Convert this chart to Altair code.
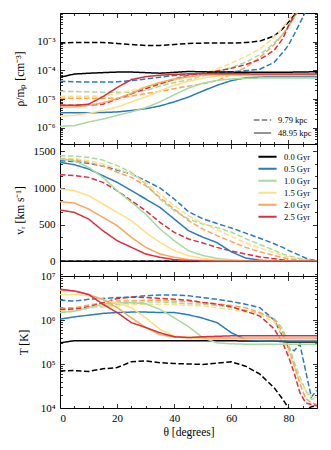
import altair as alt
import pandas as pd

# ---------------- data ----------------
THETA = [0, 5, 10, 15, 20, 25, 30, 35, 40, 45, 50, 55, 60, 65, 70, 75, 78, 80, 82, 84, 86, 88, 90]
AGES = ["0.0 Gyr", "0.5 Gyr", "1.0 Gyr", "1.5 Gyr", "2.0 Gyr", "2.5 Gyr"]
COLORS = ["#000000", "#2b7bba", "#a6db9f", "#fedf85", "#fca55d", "#d7303f"]
RADII = ["9.79 kpc", "48.95 kpc"]

# log10(rho/m_p [cm^-3])
LOGRHO_9 = {
    "0.0 Gyr": [-3.05, -3.03, -3.03, -3.03, -3.06, -3.10, -3.13, -3.13, -3.10, -3.06, -3.05, -3.05, -3.05, -3.03, -2.98, -2.80, -2.55, -2.32, -2.08, -1.82, -1.60, -1.40, -1.20],
    "0.5 Gyr": [-4.38, -4.40, -4.41, -4.41, -4.40, -4.36, -4.30, -4.24, -4.18, -4.15, -4.12, -4.08, -4.05, -4.01, -3.96, -3.72, -3.38, -3.12, -2.75, -2.35, -1.95, -1.60, -1.30],
    "1.0 Gyr": [-4.73, -4.74, -4.75, -4.76, -4.76, -4.76, -4.70, -4.55, -4.43, -4.33, -4.20, -4.05, -3.90, -3.72, -3.45, -3.05, -2.75, -2.50, -2.15, -1.85, -1.50, -1.20, -1.00],
    "1.5 Gyr": [-4.90, -4.90, -4.90, -4.90, -4.82, -4.70, -4.58, -4.47, -4.35, -4.25, -4.12, -3.95, -3.75, -3.52, -3.25, -2.85, -2.50, -2.25, -1.95, -1.70, -1.40, -1.20, -1.00],
    "2.0 Gyr": [-4.97, -4.97, -4.97, -4.97, -4.97, -4.90, -4.81, -4.73, -4.64, -4.55, -4.47, -4.35, -4.15, -3.90, -3.55, -3.10, -2.75, -2.45, -2.15, -1.85, -1.50, -1.20, -1.00],
    "2.5 Gyr": [-5.22, -5.22, -5.22, -5.18, -5.00, -4.82, -4.64, -4.47, -4.31, -4.17, -4.10, -4.02, -3.93, -3.80, -3.62, -3.30, -2.90, -2.45, -2.10, -1.80, -1.50, -1.20, -1.00],
}
LOGRHO_49 = {
    "0.0 Gyr": [-4.24, -4.13, -4.10, -4.08, -4.06, -4.06, -4.08, -4.10, -4.07, -4.04, -4.05, -4.06, -4.06, -4.07, -4.07, -4.07, -4.07, -4.07, -4.06, -4.06, -4.06, -4.05, -4.05],
    "0.5 Gyr": [-5.48, -5.48, -5.48, -5.47, -5.45, -5.40, -5.34, -5.24, -5.10, -4.93, -4.72, -4.52, -4.36, -4.26, -4.23, -4.22, -4.22, -4.22, -4.22, -4.22, -4.22, -4.22, -4.22],
    "1.0 Gyr": [-5.95, -5.93, -5.80, -5.70, -5.57, -5.45, -5.30, -5.10, -4.85, -4.62, -4.45, -4.35, -4.30, -4.28, -4.27, -4.27, -4.27, -4.27, -4.27, -4.27, -4.27, -4.27, -4.27],
    "1.5 Gyr": [-5.60, -5.57, -5.50, -5.40, -5.28, -5.10, -4.93, -4.72, -4.52, -4.38, -4.27, -4.20, -4.18, -4.18, -4.18, -4.18, -4.18, -4.18, -4.18, -4.18, -4.18, -4.18, -4.18],
    "2.0 Gyr": [-5.28, -5.28, -5.22, -5.13, -4.99, -4.80, -4.58, -4.42, -4.30, -4.22, -4.17, -4.15, -4.15, -4.15, -4.15, -4.15, -4.15, -4.15, -4.15, -4.15, -4.15, -4.15, -4.15],
    "2.5 Gyr": [-5.22, -5.22, -5.18, -4.92, -4.60, -4.32, -4.22, -4.17, -4.14, -4.12, -4.12, -4.12, -4.12, -4.12, -4.13, -4.13, -4.13, -4.13, -4.13, -4.13, -4.13, -4.13, -4.13],
}

# v_R [km/s]
VR_9 = {
    "0.0 Gyr": [0] * 23,
    "0.5 Gyr": [1373, 1360, 1336, 1300, 1245, 1191, 1100, 1000, 850, 677, 580, 515, 455, 385, 315, 240, 190, 150, 115, 80, 45, 20, 10],
    "1.0 Gyr": [1441, 1435, 1418, 1380, 1305, 1214, 1055, 850, 691, 577, 510, 460, 400, 310, 230, 150, 100, 75, 55, 40, 25, 15, 5],
    "1.5 Gyr": [1409, 1400, 1373, 1330, 1259, 1191, 1077, 918, 759, 623, 520, 430, 340, 250, 180, 120, 80, 60, 45, 30, 18, 10, 5],
    "2.0 Gyr": [1395, 1385, 1350, 1300, 1214, 1145, 1032, 873, 714, 555, 440, 350, 270, 190, 130, 80, 50, 35, 25, 15, 8, 5, 0],
    "2.5 Gyr": [1182, 1170, 1145, 1077, 964, 827, 691, 532, 395, 305, 250, 190, 140, 100, 60, 35, 20, 12, 8, 5, 2, 0, 0],
}
VR_49 = {
    "0.0 Gyr": [0] * 23,
    "0.5 Gyr": [1350, 1318, 1259, 1168, 1077, 964, 850, 736, 577, 418, 330, 255, 130, 45, 15, 5, 3, 2, 0, 0, 0, 0, 0],
    "1.0 Gyr": [1395, 1373, 1282, 1145, 964, 805, 645, 441, 282, 145, 80, 40, 20, 8, 3, 0, 0, 0, 0, 0, 0, 0, 0],
    "1.5 Gyr": [986, 964, 895, 782, 668, 555, 395, 259, 145, 77, 40, 20, 10, 5, 2, 0, 0, 0, 0, 0, 0, 0, 0],
    "2.0 Gyr": [814, 795, 714, 600, 486, 327, 191, 100, 55, 23, 12, 6, 3, 1, 0, 0, 0, 0, 0, 0, 0, 0, 0],
    "2.5 Gyr": [700, 668, 577, 418, 282, 191, 100, 55, 23, 10, 5, 2, 1, 0, 0, 0, 0, 0, 0, 0, 0, 0, 0],
}

# log10(T [K])
LOGT_9 = {
    "0.0 Gyr": [4.84, 4.85, 4.83, 4.89, 4.92, 5.05, 5.07, 5.03, 5.01, 5.00, 4.99, 5.02, 5.05, 4.95, 4.77, 4.46, 4.20, 4.00, 3.90, 3.90, 3.95, 4.03, 4.05],
    "0.5 Gyr": [6.45, 6.43, 6.47, 6.49, 6.51, 6.52, 6.55, 6.57, 6.57, 6.55, 6.51, 6.47, 6.42, 6.36, 6.28, 6.00, 5.62, 5.37, 5.30, 5.45, 4.85, 4.25, 4.40],
    "1.0 Gyr": [6.17, 6.20, 6.27, 6.32, 6.36, 6.39, 6.41, 6.41, 6.39, 6.37, 6.36, 6.33, 6.28, 6.22, 6.15, 6.03, 5.80, 5.45, 5.05, 4.70, 4.40, 4.20, 4.23],
    "1.5 Gyr": [6.22, 6.22, 6.28, 6.29, 6.32, 6.35, 6.36, 6.36, 6.35, 6.33, 6.32, 6.28, 6.24, 6.18, 6.13, 5.95, 5.65, 5.28, 4.95, 4.62, 4.40, 4.27, 4.23],
    "2.0 Gyr": [6.27, 6.28, 6.34, 6.39, 6.43, 6.43, 6.45, 6.45, 6.43, 6.42, 6.40, 6.37, 6.33, 6.28, 6.17, 6.02, 5.72, 5.38, 4.97, 4.56, 4.22, 4.12, 4.08],
    "2.5 Gyr": [6.24, 6.25, 6.30, 6.39, 6.49, 6.52, 6.51, 6.49, 6.47, 6.45, 6.40, 6.36, 6.30, 6.20, 6.09, 5.80, 5.48, 5.17, 4.80, 4.35, 4.12, 4.08, 4.05],
}
LOGT_49 = {
    "0.0 Gyr": [5.48, 5.53, 5.53, 5.53, 5.53, 5.53, 5.53, 5.53, 5.53, 5.53, 5.53, 5.53, 5.53, 5.52, 5.52, 5.52, 5.51, 5.50, 5.50, 5.50, 5.50, 5.50, 5.50],
    "0.5 Gyr": [6.02, 6.07, 6.11, 6.15, 6.17, 6.18, 6.18, 6.17, 6.17, 6.12, 6.04, 5.94, 5.71, 5.56, 5.53, 5.52, 5.52, 5.52, 5.52, 5.52, 5.52, 5.52, 5.52],
    "1.0 Gyr": [6.17, 6.20, 6.28, 6.36, 6.39, 6.39, 6.37, 6.24, 6.05, 5.85, 5.60, 5.48, 5.46, 5.45, 5.45, 5.45, 5.45, 5.45, 5.45, 5.45, 5.45, 5.45, 5.45],
    "1.5 Gyr": [6.58, 6.58, 6.55, 6.47, 6.39, 6.28, 6.05, 5.79, 5.64, 5.60, 5.57, 5.56, 5.56, 5.56, 5.56, 5.56, 5.56, 5.56, 5.56, 5.56, 5.56, 5.56, 5.56],
    "2.0 Gyr": [6.67, 6.66, 6.58, 6.47, 6.28, 6.05, 5.83, 5.67, 5.61, 5.60, 5.60, 5.59, 5.59, 5.59, 5.59, 5.59, 5.59, 5.59, 5.59, 5.59, 5.59, 5.59, 5.59],
    "2.5 Gyr": [6.70, 6.66, 6.58, 6.36, 6.17, 5.94, 5.83, 5.71, 5.62, 5.60, 5.62, 5.63, 5.64, 5.64, 5.64, 5.64, 5.64, 5.64, 5.64, 5.64, 5.64, 5.64, 5.64],
}

# ---------------- build tables ----------------
def long_table(d9, d49, as_log):
    rows = []
    for rad, d in ((RADII[0], d9), (RADII[1], d49)):
        for age in AGES:
            for t, v in zip(THETA, d[age]):
                rows.append({"theta": t, "val": 10 ** v if as_log else v, "age": age, "rad": rad})
    return pd.DataFrame(rows)

DF_RHO = long_table(LOGRHO_9, LOGRHO_49, True)
DF_VR = long_table(VR_9, VR_49, False)
DF_T = long_table(LOGT_9, LOGT_49, True)

# ---------------- layout / style ----------------
FONT = "Liberation Serif"
W = 257
H1, H2, H3 = 131, 132, 132

XS = alt.Scale(domain=[0, 90], nice=False, zero=False)
X_MAJOR = [0, 20, 40, 60, 80]
X_MINOR = [v for v in range(5, 90, 5) if v % 20]

SUP = {-7: "⁻⁷", -6: "⁻⁶", -5: "⁻⁵", -4: "⁻⁴", -3: "⁻³", -2: "⁻²",
       4: "⁴", 5: "⁵", 6: "⁶", 7: "⁷"}


def log_label_expr(exps):
    parts = [f"round(log(datum.value)/LN10) == {e} ? '10{SUP[e]}'" for e in exps]
    return " : ".join(parts) + " : ''"


def log_minor(lo_exp, hi_exp, lo, hi):
    out = []
    for e in range(lo_exp, hi_exp + 1):
        for k in range(2, 10):
            v = k * 10.0 ** e
            if lo < v < hi:
                out.append(v)
    return out


COLOR_SCALE = alt.Scale(domain=AGES, range=COLORS)
DASH_SCALE = alt.Scale(domain=RADII, range=[[5.5, 2.5], [1, 0]])


def panel(df, yscale, ymajor, yminor, H, ytitle, titlex, label_expr,
          show_x, color_legend, dash_legend, tick_val):
    ykw = dict(orient="left", values=ymajor, ticks=False, domain=False,
               labelPadding=5, title=ytitle, titleX=titlex, titleY=H / 2,
               titleBaseline="middle", grid=False)
    if label_expr:
        ykw["labelExpr"] = label_expr
    else:
        ykw["format"] = "d"
    yaxis = alt.Axis(**ykw)
    xaxis = None
    if show_x:
        xaxis = alt.Axis(orient="bottom", values=X_MAJOR, ticks=False, domain=False,
                         labelPadding=4, title="θ [degrees]", titlePadding=3,
                         grid=False, format="d")
    lines = alt.Chart(df).mark_line(clip=True, strokeWidth=1.5, strokeCap="butt").encode(
        x=alt.X("theta:Q", scale=XS, axis=xaxis),
        y=alt.Y("val:Q", scale=yscale, axis=yaxis),
        color=alt.Color("age:N", scale=COLOR_SCALE, legend=color_legend),
        strokeDash=alt.StrokeDash("rad:N", scale=DASH_SCALE, legend=dash_legend),
    )
    tick_df = pd.DataFrame({"theta": [45], "val": [tick_val]})
    layers = [lines]
    for vals, size in ((X_MAJOR, 4.5), (X_MINOR, 2.5)):
        for orient in ("top", "bottom"):
            layers.append(alt.Chart(tick_df).mark_point(opacity=0).encode(
                x=alt.X("theta:Q", scale=XS, axis=alt.Axis(
                    orient=orient, offset=-H, values=vals, labels=False, domain=False,
                    ticks=True, tickSize=size, tickWidth=0.8, tickColor="black",
                    grid=False, title=None)),
                y=alt.Y("val:Q", scale=yscale, axis=None)))
    for vals, size in ((ymajor, 4.5), (yminor, 2.5)):
        for orient in ("left", "right"):
            layers.append(alt.Chart(tick_df).mark_point(opacity=0).encode(
                y=alt.Y("val:Q", scale=yscale, axis=alt.Axis(
                    orient=orient, offset=-W, values=vals, labels=False, domain=False,
                    ticks=True, tickSize=size, tickWidth=0.8, tickColor="black",
                    grid=False, title=None)),
                x=alt.X("theta:Q", scale=XS, axis=None)))
    return alt.layer(*layers).resolve_axis(x="independent", y="independent").properties(
        width=W, height=H)


RHO_LO, RHO_HI = 2.7e-7, 1.0e-2
rho_scale = alt.Scale(type="log", domain=[RHO_LO, RHO_HI], nice=False)
rho_major = [1e-6, 1e-5, 1e-4, 1e-3]
rho_minor = log_minor(-7, -3, RHO_LO, RHO_HI)

vr_scale = alt.Scale(domain=[-200, 1600], nice=False, zero=False)
vr_major = [0, 500, 1000, 1500]
vr_minor = [-500 / 3, 500 / 3, 1000 / 3, 2000 / 3, 2500 / 3, 3500 / 3, 4000 / 3]

T_LO, T_HI = 1e4, 1e7
t_scale = alt.Scale(type="log", domain=[T_LO, T_HI], nice=False)
t_major = [1e4, 1e5, 1e6, 1e7]
t_minor = log_minor(4, 6, T_LO, T_HI)

dash_legend = alt.Legend(orient="bottom-right", title=None, symbolType="stroke",
                         symbolStrokeColor="#707070", symbolStrokeWidth=1.5,
                         symbolSize=300, offset=5, rowPadding=1, padding=0,
                         clipHeight=12, labelOffset=6)
color_legend = alt.Legend(orient="top-right", title=None, symbolType="stroke",
                          symbolStrokeWidth=2, symbolSize=330, offset=7,
                          rowPadding=0, padding=0, clipHeight=11.6, labelOffset=6)

p1 = panel(DF_RHO, rho_scale, rho_major, rho_minor, H1, "ρ/mₚ [cm⁻³]", -40,
           log_label_expr([-6, -5, -4, -3]), False, None, dash_legend, 1e-4)
p2 = panel(DF_VR, vr_scale, vr_major, vr_minor, H2, "vᵣ [km s⁻¹]", -40,
           None, False, color_legend, None, 500)
p3 = panel(DF_T, t_scale, t_major, t_minor, H3, "T [K]", -36,
           log_label_expr([4, 5, 6, 7]), True, None, None, 1e5)

chart = alt.vconcat(p1, p2, p3, spacing=0, bounds="flush").resolve_legend(
    color="independent", strokeDash="independent"
).properties(
    padding={"left": 5, "top": 4, "right": 5, "bottom": 5}
).configure_view(
    stroke="black", strokeWidth=1
).configure_axis(
    labelFont=FONT, titleFont=FONT, labelFontSize=11, titleFontSize=11.5,
    labelColor="black", titleColor="black", titleFontWeight="normal"
).configure_legend(
    labelFont=FONT, labelFontSize=8.5, labelColor="black"
)

chart.save("out.html", embed_options={"renderer": "svg", "actions": False})
